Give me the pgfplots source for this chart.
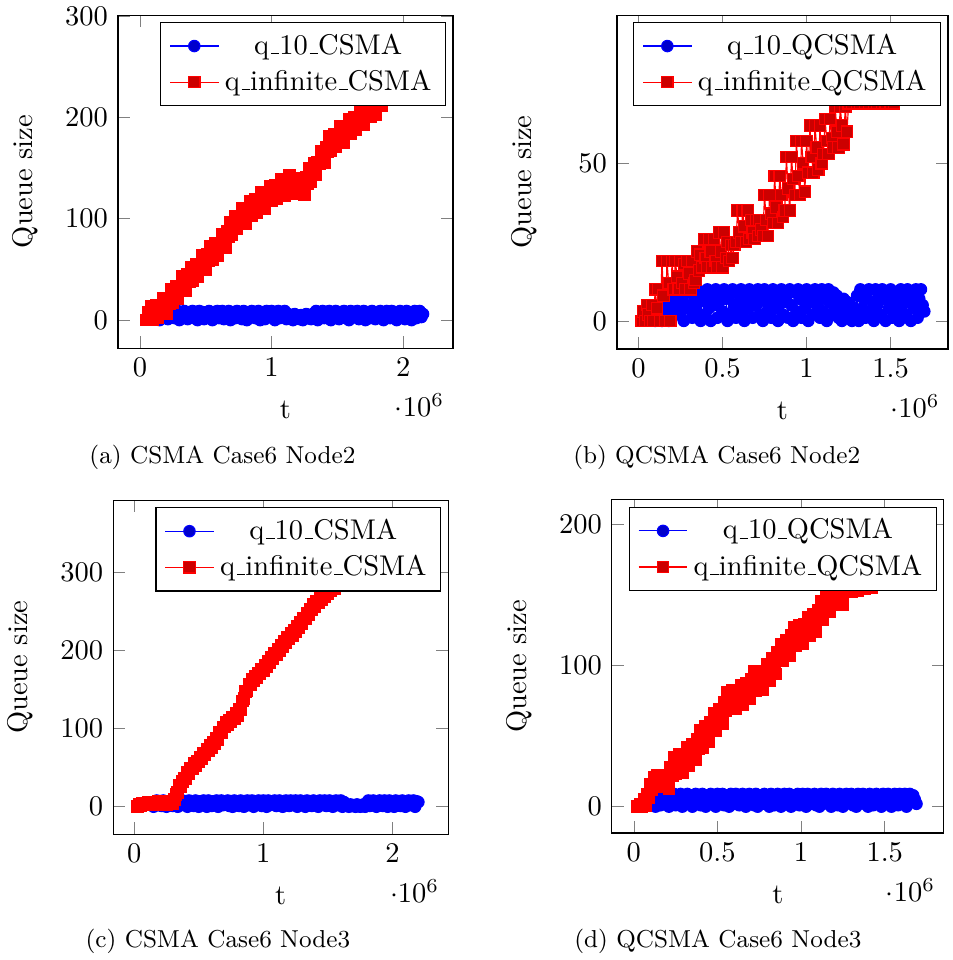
\documentclass[border=0pt]{standalone}
\usepackage{pgfplots}
\pgfplotsset{compat=1.18}
\newcommand{\us}{\leavevmode\kern.06em\vbox{\hrule width.3em}}
\begin{document}
\begin{tikzpicture}
\useasboundingbox (0,0) rectangle (334.5pt,337pt);
\pgfplotsset{myax/.style={scale only axis, anchor=south west, xlabel={t}, ylabel={Queue size}, legend cell align=center,
    every axis x label/.style={at={(0.5,0)},below,yshift=-15pt},
    every axis y label/.style={at={(0,0.5)},xshift=-32.5pt,rotate=90},
    every x tick scale label/.append style={yshift=2.5pt}},
  bluepl/.style={mark options={fill=blue}, legend image post style={mark options={fill=blue!80!black}}},
  redpl/.style={mark options={fill=red}, legend image post style={mark options={fill=red!80!black}}}}
% (a)
\begin{axis}[myax, at={(41.4pt,214.8pt)}, width=117.6pt, height=116.9pt,
  xmin=-0.167e6, xmax=2.377e6, ymin=-27.6, ymax=301,
  xtick={0,1e6,2e6}, ytick={0,100,200,300}]
\addplot+[bluepl] coordinates {
(150e3,0) (162.5e3,6) (175e3,9) (187.5e3,3) (200e3,7) (212.5e3,1) (225e3,8) (237.5e3,4) (250e3,9) (262.5e3,2)
(275e3,5) (287.5e3,9) (300e3,0) (312.5e3,7) (325e3,3) (337.5e3,9) (350e3,6) (362.5e3,1) (375e3,8) (387.5e3,4)
(400e3,9) (412.5e3,2) (425e3,6) (437.5e3,0) (450e3,9) (462.5e3,5) (475e3,8) (487.5e3,1) (500e3,7) (512.5e3,3)
(525e3,9) (537.5e3,4) (550e3,0) (562.5e3,8) (575e3,6) (587.5e3,9) (600e3,2) (612.5e3,5) (625e3,9) (637.5e3,1)
(650e3,7) (662.5e3,3) (675e3,9) (687.5e3,0) (700e3,6) (712.5e3,8) (725e3,2) (737.5e3,9) (750e3,4) (762.5e3,7)
(775e3,1) (787.5e3,9) (800e3,5) (812.5e3,0) (825e3,8) (837.5e3,3) (850e3,9) (862.5e3,6) (875e3,2) (887.5e3,7)
(900e3,9) (912.5e3,0) (925e3,4) (937.5e3,8) (950e3,1) (962.5e3,9) (975e3,6) (987.5e3,3) (1000e3,9) (1012.5e3,5)
(1025e3,0) (1037.5e3,7) (1050e3,9) (1062.5e3,2) (1075e3,8) (1087.5e3,4) (1100e3,9) (1112.5e3,1) (1125e3,6) (1137.5e3,3)
(1150e3,5) (1162.5e3,0) (1175e3,6) (1187.5e3,2) (1200e3,4) (1212.5e3,1) (1225e3,5) (1237.5e3,0) (1250e3,3) (1262.5e3,6)
(1275e3,2) (1287.5e3,5) (1300e3,1) (1312.5e3,6) (1325e3,3) (1337.5e3,9) (1350e3,0) (1362.5e3,7) (1375e3,4) (1387.5e3,9)
(1400e3,2) (1412.5e3,8) (1425e3,5) (1437.5e3,9) (1450e3,0) (1462.5e3,6) (1475e3,3) (1487.5e3,9) (1500e3,7) (1512.5e3,1)
(1525e3,8) (1537.5e3,4) (1550e3,9) (1562.5e3,2) (1575e3,6) (1587.5e3,0) (1600e3,9) (1612.5e3,5) (1625e3,8) (1637.5e3,3)
(1650e3,9) (1662.5e3,1) (1675e3,7) (1687.5e3,4) (1700e3,9) (1712.5e3,0) (1725e3,6) (1737.5e3,8) (1750e3,2) (1762.5e3,9)
(1775e3,5) (1787.5e3,1) (1800e3,8) (1812.5e3,3) (1825e3,9) (1837.5e3,6) (1850e3,0) (1862.5e3,7) (1875e3,9) (1887.5e3,4)
(1900e3,2) (1912.5e3,9) (1925e3,5) (1937.5e3,8) (1950e3,0) (1962.5e3,6) (1975e3,9) (1987.5e3,3) (2000e3,7) (2012.5e3,1)
(2025e3,9) (2037.5e3,4) (2050e3,8) (2062.5e3,0) (2075e3,6) (2087.5e3,9) (2100e3,2) (2112.5e3,5) (2125e3,9) (2137.5e3,3)
(2150e3,6)};
\addplot+[redpl] coordinates {
(50e3,0) (62.5e3,8) (75e3,1) (87.5e3,14) (100e3,0) (112.5e3,8) (125e3,15) (137.5e3,2) (150e3,13) (162.5e3,11)
(175e3,22) (187.5e3,10) (200e3,6) (212.5e3,22) (225e3,16) (237.5e3,30) (250e3,17) (262.5e3,26) (275e3,33) (287.5e3,21)
(300e3,33) (312.5e3,31) (325e3,43) (337.5e3,32) (350e3,29) (362.5e3,45) (375e3,38) (387.5e3,52) (400e3,39) (412.5e3,48)
(425e3,55) (437.5e3,43) (450e3,55) (462.5e3,52) (475e3,64) (487.5e3,53) (500e3,50) (512.5e3,65) (525e3,59) (537.5e3,73)
(550e3,60) (562.5e3,68) (575e3,76) (587.5e3,64) (600e3,76) (612.5e3,73) (625e3,85) (637.5e3,74) (650e3,71) (662.5e3,88)
(675e3,82) (687.5e3,97) (700e3,84) (712.5e3,93) (725e3,102) (737.5e3,90) (750e3,101) (762.5e3,98) (775e3,110) (787.5e3,98)
(800e3,95) (812.5e3,110) (825e3,103) (837.5e3,117) (850e3,103) (862.5e3,111) (875e3,119) (887.5e3,106) (900e3,117) (912.5e3,114)
(925e3,126) (937.5e3,114) (950e3,110) (962.5e3,125) (975e3,119) (987.5e3,132) (1000e3,118) (1012.5e3,126) (1025e3,133) (1037.5e3,120)
(1050e3,131) (1062.5e3,128) (1075e3,139) (1087.5e3,127) (1100e3,123) (1112.5e3,138) (1125e3,131) (1137.5e3,143) (1150e3,127) (1162.5e3,134)
(1175e3,139) (1187.5e3,125) (1200e3,135) (1212.5e3,130) (1225e3,140) (1237.5e3,127) (1250e3,124) (1262.5e3,141) (1275e3,135) (1287.5e3,150)
(1300e3,137) (1312.5e3,146) (1325e3,155) (1337.5e3,143) (1350e3,156) (1362.5e3,154) (1375e3,167) (1387.5e3,157) (1400e3,155) (1412.5e3,171)
(1425e3,166) (1437.5e3,181) (1450e3,167) (1462.5e3,176) (1475e3,183) (1487.5e3,171) (1500e3,182) (1512.5e3,179) (1525e3,191) (1537.5e3,179)
(1550e3,175) (1562.5e3,191) (1575e3,184) (1587.5e3,198) (1600e3,184) (1612.5e3,193) (1625e3,200) (1637.5e3,188) (1650e3,199) (1662.5e3,197)
(1675e3,208) (1687.5e3,197) (1700e3,193) (1712.5e3,208) (1725e3,202) (1737.5e3,215) (1750e3,201) (1762.5e3,209) (1775e3,216) (1787.5e3,203)
(1800e3,214) (1812.5e3,212) (1825e3,223) (1837.5e3,212) (1850e3,219) (1875e3,225) (1900e3,230) (1950e3,240) (2000e3,249) (2050e3,258)
(2100e3,265) (2150e3,270)};
\legend{q\us 10\us CSMA, q\us infinite\us CSMA}
\end{axis}
% (b)
\begin{axis}[myax, at={(216.6pt,214.5pt)}, width=116.2pt, height=117.2pt,
  xmin=-0.127e6, xmax=1.841e6, ymin=-8.9, ymax=97,
  xtick={0,0.5e6,1e6,1.5e6}, ytick={0,50}]
\addplot+[bluepl] coordinates {
(100e3,0) (110e3,3) (120e3,1) (130e3,5) (140e3,0) (150e3,7) (160e3,2) (170e3,4) (180e3,0) (190e3,6)
(200e3,1) (210e3,8) (220e3,3) (230e3,6) (240e3,10) (250e3,2) (260e3,7) (270e3,0) (280e3,9) (290e3,4)
(300e3,10) (310e3,5) (320e3,1) (330e3,8) (340e3,3) (350e3,10) (360e3,6) (370e3,0) (380e3,9) (390e3,2)
(400e3,7) (410e3,10) (420e3,4) (430e3,0) (440e3,8) (450e3,5) (460e3,10) (470e3,1) (480e3,6) (490e3,9)
(500e3,3) (510e3,10) (520e3,7) (530e3,0) (540e3,8) (550e3,2) (560e3,10) (570e3,5) (580e3,1) (590e3,9)
(600e3,6) (610e3,10) (620e3,3) (630e3,0) (640e3,8) (650e3,4) (660e3,10) (670e3,7) (680e3,1) (690e3,9)
(700e3,5) (710e3,10) (720e3,2) (730e3,8) (740e3,0) (750e3,10) (760e3,6) (770e3,3) (780e3,9) (790e3,1)
(800e3,10) (810e3,7) (820e3,4) (830e3,0) (840e3,9) (850e3,10) (860e3,2) (870e3,6) (880e3,8) (890e3,1)
(900e3,10) (910e3,5) (920e3,0) (930e3,9) (940e3,3) (950e3,10) (960e3,7) (970e3,1) (980e3,8) (990e3,4)
(1000e3,10) (1010e3,0) (1020e3,6) (1030e3,9) (1040e3,2) (1050e3,10) (1060e3,5) (1070e3,8) (1080e3,1) (1090e3,10)
(1100e3,3) (1110e3,7) (1120e3,0) (1130e3,10) (1140e3,6) (1150e3,2) (1160e3,9) (1170e3,4) (1180e3,8) (1190e3,1)
(1200e3,5) (1210e3,0) (1220e3,7) (1230e3,3) (1240e3,6) (1250e3,1) (1260e3,5) (1270e3,0) (1280e3,4) (1290e3,2)
(1300e3,8) (1310e3,0) (1320e3,10) (1330e3,4) (1340e3,7) (1350e3,1) (1360e3,9) (1370e3,10) (1380e3,3) (1390e3,6)
(1400e3,0) (1410e3,10) (1420e3,5) (1430e3,8) (1440e3,2) (1450e3,10) (1460e3,7) (1470e3,0) (1480e3,9) (1490e3,4)
(1500e3,10) (1510e3,1) (1520e3,6) (1530e3,9) (1540e3,3) (1550e3,0) (1560e3,10) (1570e3,5) (1580e3,8) (1590e3,2)
(1600e3,10) (1610e3,6) (1620e3,0) (1630e3,9) (1640e3,4) (1650e3,10) (1660e3,1) (1670e3,7) (1680e3,10) (1690e3,5)
(1700e3,3)};
\addplot coordinates {
(20e3,0) (30e3,3) (40e3,0) (50e3,5) (60e3,2) (70e3,0) (80e3,5) (90e3,0) (100e3,10) (110e3,4) (120e3,10)
(130e3,0) (140e3,19) (150e3,8) (160e3,0) (170e3,19) (180e3,12) (190e3,0) (200e3,19)
(210e3,10) (220e3,19) (230e3,14) (240e3,10) (250e3,19) (260e3,12) (270e3,18) (280e3,10) (290e3,19) (300e3,15) (310e3,10) (320e3,19) (330e3,12)
(340e3,13) (350e3,22) (360e3,16) (370e3,21)
(380e3,17) (390e3,26) (400e3,20) (410e3,17) (420e3,26) (430e3,22) (440e3,17) (450e3,26) (460e3,19)
(470e3,17) (480e3,28) (490e3,22) (500e3,17) (510e3,28) (520e3,20) (530e3,25)
(540e3,19) (550e3,24) (560e3,20) (570e3,24)
(580e3,25) (590e3,35) (600e3,28) (610e3,25) (620e3,35) (630e3,30) (640e3,25) (650e3,35)
(660e3,26) (670e3,32) (680e3,28) (690e3,26) (700e3,32) (710e3,27) (720e3,32) (730e3,29)
(740e3,27) (750e3,40) (760e3,32) (770e3,27) (780e3,40) (790e3,34)
(800e3,31) (810e3,46) (820e3,36) (830e3,31) (840e3,46) (850e3,40) (860e3,33)
(870e3,35) (880e3,52) (890e3,42) (900e3,35) (910e3,52) (920e3,45)
(930e3,40) (940e3,57) (950e3,46) (960e3,40) (970e3,57) (980e3,50) (990e3,41) (1000e3,57)
(1010e3,47) (1020e3,62) (1030e3,52) (1040e3,47) (1050e3,62) (1060e3,55) (1070e3,48) (1080e3,62) (1090e3,50)
(1100e3,53) (1110e3,64) (1120e3,57) (1130e3,53) (1140e3,64) (1150e3,58)
(1160e3,55) (1170e3,68) (1180e3,60) (1190e3,55) (1200e3,68) (1210e3,62) (1220e3,56) (1230e3,68) (1240e3,60)
(1250e3,69) (1260e3,72) (1270e3,69) (1280e3,75) (1290e3,70) (1300e3,69) (1310e3,73) (1320e3,69) (1330e3,75) (1340e3,70)
(1350e3,69) (1360e3,72) (1370e3,69) (1380e3,74) (1390e3,70) (1400e3,69) (1410e3,73) (1420e3,69) (1430e3,75) (1440e3,70)
(1450e3,69) (1460e3,72) (1470e3,69) (1480e3,74) (1490e3,70) (1500e3,69) (1510e3,73) (1520e3,69) (1530e3,75) (1540e3,70)
(1550e3,72) (1570e3,76) (1590e3,80) (1610e3,83) (1630e3,86) (1650e3,88) (1680e3,85)};
\legend{q\us 10\us QCSMA, q\us infinite\us QCSMA}
\end{axis}
% (c)
\begin{axis}[myax, at={(39.7pt,44.2pt)}, width=117.6pt, height=117.2pt,
  xmin=-0.163e6, xmax=2.43e6, ymin=-34.9, ymax=391.5,
  xtick={0,1e6,2e6}, ytick={0,100,200,300}]
\addplot+[bluepl] coordinates {
(150e3,0) (162.5e3,5) (175e3,8) (187.5e3,2) (200e3,6) (212.5e3,1) (225e3,8) (237.5e3,4) (250e3,0) (262.5e3,7)
(275e3,3) (287.5e3,8) (300e3,1) (312.5e3,6) (325e3,8) (337.5e3,0) (350e3,5) (362.5e3,2) (375e3,8) (387.5e3,4)
(400e3,7) (412.5e3,0) (425e3,8) (437.5e3,3) (450e3,6) (462.5e3,1) (475e3,8) (487.5e3,5) (500e3,0) (512.5e3,7)
(525e3,2) (537.5e3,8) (550e3,4) (562.5e3,0) (575e3,8) (587.5e3,6) (600e3,1) (612.5e3,7) (625e3,3) (637.5e3,8)
(650e3,0) (662.5e3,5) (675e3,8) (687.5e3,2) (700e3,7) (712.5e3,4) (725e3,8) (737.5e3,1) (750e3,6) (762.5e3,0)
(775e3,8) (787.5e3,3) (800e3,7) (812.5e3,1) (825e3,8) (837.5e3,5) (850e3,0) (862.5e3,6) (875e3,8) (887.5e3,2)
(900e3,4) (912.5e3,8) (925e3,0) (937.5e3,7) (950e3,3) (962.5e3,8) (975e3,5) (987.5e3,1) (1000e3,8) (1012.5e3,6)
(1025e3,0) (1037.5e3,8) (1050e3,2) (1062.5e3,7) (1075e3,4) (1087.5e3,8) (1100e3,1) (1112.5e3,5) (1125e3,8) (1137.5e3,3)
(1150e3,0) (1162.5e3,7) (1175e3,8) (1187.5e3,4) (1200e3,1) (1212.5e3,8) (1225e3,6) (1237.5e3,2) (1250e3,8) (1262.5e3,0)
(1275e3,5) (1287.5e3,8) (1300e3,3) (1312.5e3,7) (1325e3,0) (1337.5e3,8) (1350e3,4) (1362.5e3,6) (1375e3,1) (1387.5e3,8)
(1400e3,2) (1412.5e3,7) (1425e3,0) (1437.5e3,8) (1450e3,5) (1462.5e3,3) (1475e3,8) (1487.5e3,1) (1500e3,6) (1512.5e3,8)
(1525e3,4) (1537.5e3,0) (1550e3,7) (1562.5e3,8) (1575e3,2) (1587.5e3,5) (1600e3,8) (1612.5e3,0) (1625e3,6) (1637.5e3,3)
(1650e3,2) (1662.5e3,0) (1675e3,3) (1687.5e3,1) (1700e3,2) (1712.5e3,0) (1725e3,3) (1737.5e3,1) (1750e3,0) (1762.5e3,2)
(1775e3,3) (1787.5e3,0) (1800e3,2) (1812.5e3,8) (1825e3,1) (1837.5e3,6) (1850e3,8) (1862.5e3,3) (1875e3,0) (1887.5e3,7)
(1900e3,8) (1912.5e3,4) (1925e3,1) (1937.5e3,8) (1950e3,5) (1962.5e3,0) (1975e3,8) (1987.5e3,2) (2000e3,7) (2012.5e3,0)
(2025e3,8) (2037.5e3,4) (2050e3,6) (2062.5e3,1) (2075e3,8) (2087.5e3,3) (2100e3,0) (2112.5e3,7) (2125e3,8) (2137.5e3,2)
(2150e3,5) (2162.5e3,8) (2175e3,0) (2187.5e3,7) (2200e3,6)};
\addplot+[redpl] coordinates {
(25e3,0) (37.5e3,3) (50e3,1) (62.5e3,4) (75e3,2) (87.5e3,5) (100e3,2) (112.5e3,6) (125e3,3) (137.5e3,5)
(150e3,2) (162.5e3,6) (175e3,4) (187.5e3,7) (200e3,3) (212.5e3,6) (225e3,4) (237.5e3,7) (250e3,3) (262.5e3,6)
(275e3,4) (287.5e3,7) (300e3,4) (312.5e3,9) (325e3,16) (337.5e3,18) (350e3,27) (362.5e3,25) (375e3,32) (387.5e3,37)
(400e3,36) (412.5e3,44) (425e3,42) (437.5e3,49) (450e3,48) (462.5e3,55) (475e3,52) (487.5e3,58) (500e3,57) (512.5e3,63)
(525e3,61) (537.5e3,68) (550e3,66) (562.5e3,73) (575e3,71) (587.5e3,78) (600e3,76) (612.5e3,83) (625e3,81) (637.5e3,88)
(650e3,86) (662.5e3,95) (675e3,94) (687.5e3,102) (700e3,102) (712.5e3,108) (725e3,105) (737.5e3,111) (750e3,108) (762.5e3,114)
(775e3,112) (787.5e3,119) (800e3,116) (812.5e3,124) (825e3,124) (837.5e3,135) (850e3,138) (862.5e3,147) (875e3,148) (887.5e3,156)
(900e3,156) (912.5e3,163) (925e3,161) (937.5e3,167) (950e3,165) (962.5e3,171) (975e3,170) (987.5e3,176) (1000e3,174) (1012.5e3,181)
(1025e3,179) (1037.5e3,186) (1050e3,184) (1062.5e3,191) (1075e3,189) (1087.5e3,196) (1100e3,194) (1112.5e3,201) (1125e3,199) (1137.5e3,206)
(1150e3,204) (1162.5e3,211) (1175e3,209) (1187.5e3,216) (1200e3,214) (1212.5e3,221) (1225e3,219) (1237.5e3,226) (1250e3,224) (1262.5e3,231)
(1275e3,229) (1287.5e3,236) (1300e3,234) (1312.5e3,241) (1325e3,240) (1337.5e3,247) (1350e3,245) (1362.5e3,252) (1375e3,251) (1387.5e3,258)
(1400e3,256) (1412.5e3,262) (1425e3,260) (1437.5e3,266) (1450e3,264) (1462.5e3,270) (1475e3,268) (1487.5e3,274) (1500e3,272) (1512.5e3,278)
(1525e3,276) (1537.5e3,281) (1550e3,279) (1562.5e3,285) (1575e3,283) (1587.5e3,288) (1600e3,286) (1650e3,296) (1700e3,305) (1750e3,315)
(1800e3,325) (1850e3,335) (1900e3,342) (1950e3,350) (2000e3,356)};
\legend{q\us 10\us CSMA, q\us infinite\us CSMA}
\end{axis}
% (d)
\begin{axis}[myax, at={(214.8pt,44.6pt)}, width=116.5pt, height=116.9pt,
  xmin=-0.131e6, xmax=1.853e6, ymin=-18.6, ymax=217,
  xtick={0,0.5e6,1e6,1.5e6}, ytick={0,100,200}]
\addplot+[bluepl] coordinates {
(130e3,0) (140e3,3) (150e3,7) (160e3,1) (170e3,5) (180e3,9) (190e3,2) (200e3,6) (210e3,0) (220e3,8)
(230e3,4) (240e3,9) (250e3,1) (260e3,6) (270e3,3) (280e3,9) (290e3,0) (300e3,7) (310e3,5) (320e3,9)
(330e3,2) (340e3,8) (350e3,0) (360e3,6) (370e3,9) (380e3,3) (390e3,7) (400e3,1) (410e3,9) (420e3,4)
(430e3,0) (440e3,8) (450e3,5) (460e3,9) (470e3,2) (480e3,7) (490e3,0) (500e3,9) (510e3,3) (520e3,6)
(530e3,9) (540e3,1) (550e3,8) (560e3,4) (570e3,0) (580e3,9) (590e3,6) (600e3,2) (610e3,9) (620e3,5)
(630e3,1) (640e3,8) (650e3,9) (660e3,3) (670e3,0) (680e3,7) (690e3,9) (700e3,4) (710e3,6) (720e3,1)
(730e3,9) (740e3,0) (750e3,8) (760e3,5) (770e3,2) (780e3,9) (790e3,7) (800e3,3) (810e3,0) (820e3,9)
(830e3,6) (840e3,1) (850e3,8) (860e3,9) (870e3,4) (880e3,0) (890e3,7) (900e3,9) (910e3,2) (920e3,5)
(930e3,9) (940e3,0) (950e3,6) (960e3,8) (970e3,3) (980e3,9) (990e3,1) (1000e3,7) (1010e3,9) (1020e3,4)
(1030e3,0) (1040e3,9) (1050e3,5) (1060e3,2) (1070e3,8) (1080e3,9) (1090e3,1) (1100e3,6) (1110e3,0) (1120e3,9)
(1130e3,3) (1140e3,7) (1150e3,9) (1160e3,2) (1170e3,5) (1180e3,0) (1190e3,9) (1200e3,8) (1210e3,4) (1220e3,1)
(1230e3,9) (1240e3,6) (1250e3,0) (1260e3,7) (1270e3,9) (1280e3,3) (1290e3,5) (1300e3,9) (1310e3,1) (1320e3,8)
(1330e3,0) (1340e3,9) (1350e3,4) (1360e3,6) (1370e3,9) (1380e3,2) (1390e3,7) (1400e3,0) (1410e3,9) (1420e3,5)
(1430e3,1) (1440e3,8) (1450e3,9) (1460e3,3) (1470e3,6) (1480e3,0) (1490e3,9) (1500e3,7) (1510e3,2) (1520e3,9)
(1530e3,4) (1540e3,0) (1550e3,8) (1560e3,9) (1570e3,5) (1580e3,1) (1590e3,9) (1600e3,6) (1610e3,3) (1620e3,9)
(1630e3,0) (1640e3,7) (1650e3,9) (1660e3,4) (1670e3,8) (1680e3,5) (1690e3,2)};
\addplot+[redpl] coordinates {
(20e3,0) (30e3,0) (40e3,2) (50e3,0) (60e3,5) (70e3,1) (80e3,9) (90e3,6) (100e3,16) (110e3,12)
(120e3,21) (130e3,15) (140e3,22) (150e3,16) (160e3,21) (170e3,14) (180e3,22) (190e3,16) (200e3,21) (210e3,13)
(220e3,28) (230e3,22) (240e3,35) (250e3,23) (260e3,33) (270e3,37) (280e3,26) (290e3,24) (300e3,37) (310e3,30)
(320e3,42) (330e3,29) (340e3,39) (350e3,44) (360e3,34) (370e3,33) (380e3,48) (390e3,41) (400e3,54) (410e3,42)
(420e3,52) (430e3,57) (440e3,47) (450e3,46) (460e3,60) (470e3,54) (480e3,66) (490e3,54) (500e3,65) (510e3,69)
(520e3,60) (530e3,59) (540e3,74) (550e3,68) (560e3,81) (570e3,69) (580e3,78) (590e3,82) (600e3,71) (610e3,69)
(620e3,82) (630e3,74) (640e3,86) (650e3,72) (660e3,82) (670e3,87) (680e3,77) (690e3,76) (700e3,90) (710e3,84)
(720e3,96) (730e3,82) (740e3,92) (750e3,96) (760e3,85) (770e3,83) (780e3,96) (790e3,89) (800e3,101) (810e3,89)
(820e3,100) (830e3,105) (840e3,95) (850e3,94) (860e3,109) (870e3,103) (880e3,115) (890e3,103) (900e3,113) (910e3,118)
(920e3,108) (930e3,107) (940e3,121) (950e3,115) (960e3,127) (970e3,114) (980e3,124) (990e3,128) (1000e3,117) (1010e3,115)
(1020e3,129) (1030e3,122) (1040e3,134) (1050e3,121) (1060e3,132) (1070e3,136) (1080e3,126) (1090e3,124) (1100e3,139) (1110e3,132)
(1120e3,145) (1130e3,132) (1140e3,143) (1150e3,148) (1160e3,139) (1170e3,138) (1180e3,152) (1190e3,144) (1200e3,156) (1210e3,143)
(1220e3,152) (1230e3,156) (1240e3,146) (1250e3,143) (1260e3,157) (1280e3,155) (1300e3,152) (1320e3,156) (1340e3,153) (1360e3,157)
(1380e3,154) (1400e3,157) (1420e3,155) (1440e3,158) (1480e3,170) (1520e3,182) (1560e3,190) (1600e3,195) (1640e3,197)};
\legend{q\us 10\us QCSMA, q\us infinite\us QCSMA}
\end{axis}
\begin{scope}[every node/.style={font=\fontsize{8.6}{10}\selectfont}]
\node at (78.1pt,176.4pt) {(a) CSMA Case6 Node2};
\node at (251.6pt,176.4pt) {(b) QCSMA Case6 Node2};
\node at (76.5pt,6.7pt) {(c) CSMA Case6 Node3};
\node at (252.0pt,6.7pt) {(d) QCSMA Case6 Node3};
\end{scope}
\end{tikzpicture}
\end{document}
